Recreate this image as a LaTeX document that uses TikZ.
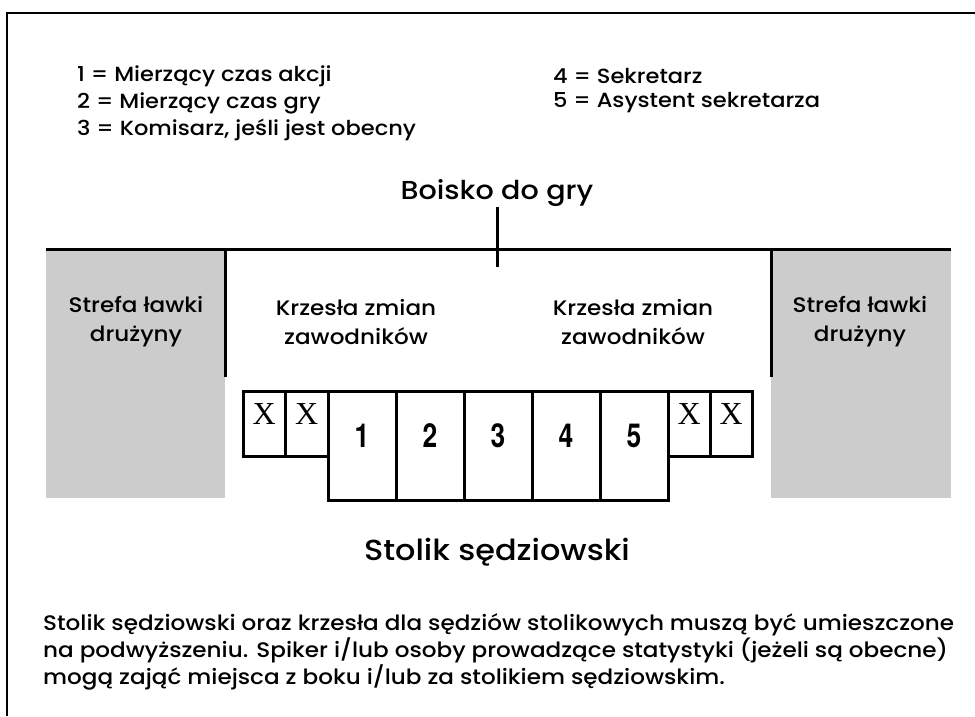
\documentclass[tikz,border=0pt]{standalone}
\usepackage{fontspec}
\setmainfont{Poppins}[UprightFont={* Medium},FakeStretch=1.1]
\newfontfamily\chairfont{Liberation Serif}
\newfontfamily\numfont{TeX Gyre Heros}
\usetikzlibrary{positioning}

\begin{document}
\begin{tikzpicture}[x=1pt,y=-1pt,
    thickline/.style={line width=3pt},
    zone/.style={fill=black!20},
    legend/.style={anchor=west,inner sep=0pt,font=\fontsize{20.5}{27}\selectfont},
    zonetxt/.style={align=center,inner sep=0pt,font=\fontsize{21}{29}\selectfont},
    title/.style={inner sep=0pt,font=\fontsize{26}{30}\selectfont},
    seatnum/.style={inner sep=0pt,font=\fontsize{33}{33}\numfont\bfseries},
    chairx/.style={inner sep=0pt,font=\fontsize{32}{32}\chairfont}]
\useasboundingbox (0,0) rectangle (975,716);
% frame
\draw[line width=2pt] (975,13) -- (7,13) -- (7,716);
% legend
\node[legend] (l1) at (77,76) {1 = Mierzący czas akcji};
\node[legend] (l2) at (77,103) {2 = Mierzący czas gry};
\node[legend] (l3) at (77,130) {3 = Komisarz, jeśli jest obecny};
\node[legend] (l4) at (553,76) {4 = Sekretarz};
\node[legend] (l5) at (553,103) {5 = Asystent sekretarza};
% bench zones
\fill[zone] (46,249) rectangle (225,498);
\fill[zone] (771,249) rectangle (951,498);
\draw[thickline] (46,249) -- (951,249);
\draw[thickline] (225,249) -- (225,377);
\draw[thickline] (771,249) -- (771,377);
\draw[thickline] (497,207) -- (497,267);
\node[title] (pitch) at (497,193) {Boisko do gry};
\node[zonetxt] (benchl) at (136,322) {Strefa ławki\\drużyny};
\node[zonetxt] (benchr) at (860,322) {Strefa ławki\\drużyny};
\node[zonetxt] (subl) at (356,322) {Krzesła zmian\\zawodników};
\node[zonetxt] (subr) at (633,322) {Krzesła zmian\\zawodników};
% table
\foreach \i in {1,...,5}{
  \draw[thickline] ({328+68*(\i-1)},391) rectangle ({328+68*\i},500);
  \node[seatnum] (s\i) at ({362+68*(\i-1)},436) {\scalebox{0.8}[1]{\i}};
}
\foreach \x/\n in {243/a,285.5/b,668/c,710/d}{
  \draw[thickline] (\x,391) rectangle (\x+42.5,456);
  \node[chairx] (x\n) at (\x+21.25,414) {X};
}
\node[title,font=\fontsize{29}{30}\selectfont] (table) at (497,552) {Stolik sędziowski};
% note
\node[anchor=west,align=left,inner sep=0pt,font=\fontsize{21}{27}\selectfont] (note) at (43,652)
  {Stolik sędziowski oraz krzesła dla sędziów stolikowych muszą być umieszczone\\
   na podwyższeniu. Spiker i/lub osoby prowadzące statystyki (jeżeli są obecne)\\
   mogą zająć miejsca z boku i/lub za stolikiem sędziowskim.};
\end{tikzpicture}
\end{document}
